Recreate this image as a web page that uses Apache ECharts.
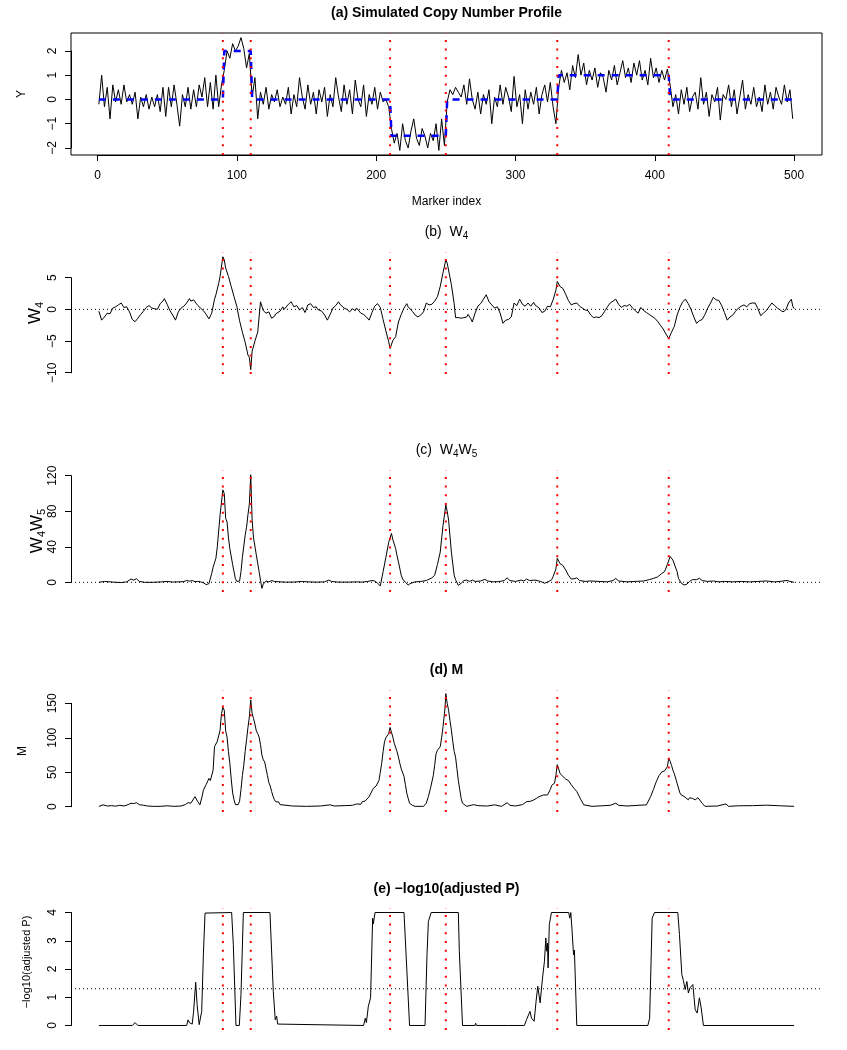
<!DOCTYPE html>
<html><head><meta charset="utf-8">
<script src="https://cdn.jsdelivr.net/npm/echarts@6/dist/echarts.min.js"></script>
<style>html,body{margin:0;padding:0;background:#fff}#c{width:847px;height:1050px}</style>
</head><body><div id="c"></div>
<script>
// ---------------- data ----------------
const breakpoints = [90, 110, 210, 250, 330, 410];
const xTickLabels = [0, 100, 200, 300, 400, 500];
const yTicksA = [-2, -1, 0, 1, 2];
const yTicksB = [-10, -5, 0, 5];
const yTicksC = [0, 40, 80, 120];
const yTicksD = [0, 50, 100, 150];
const yTicksE = [0, 1, 2, 3, 4];
const pThreshold = 1.3;

// true segment means (blue dashed)
const truthA = [[1,0],[90,0],[91,2],[110,2],[111,0],[210,0],[211,-1.5],[250,-1.5],[251,0],[330,0],[331,1],[410,1],[411,0],[500,0]];

// observed Y at markers 1,3,5,...,499
const yA = [
-0.2,1.0,-0.3,0.5,-0.8,0.6,-0.1,0.4,-0.2,0.6,
-0.1,0.2,-0.2,0.3,-0.8,0.1,-0.3,0.2,-0.4,0.1,
-0.3,0.2,-0.5,0.5,-0.7,0.5,-0.3,0.6,-0.2,-1.1,
0.2,-0.3,0.5,-0.4,0.4,-0.3,0.6,0.1,0.9,-0.3,
0.7,-0.4,1.0,-0.3,0.6,
1.2,2.0,1.7,2.3,2.0,2.2,2.55,2.1,1.3,1.9,
0.1,0.9,-0.8,0.3,-0.2,0.5,-0.4,0.2,-0.1,0.4,
-0.3,0.1,-0.2,0.5,-0.6,0.2,-0.3,0.9,0.1,-0.4,
0.6,-0.2,0.3,-0.6,0.4,-0.1,0.5,-0.7,0.2,-0.3,
0.9,0.1,-0.5,0.6,-0.2,0.4,-0.6,0.8,0.0,-0.3,
0.6,-0.7,0.2,-0.2,0.5,-0.4,0.3,-0.1,0.0,-0.3,
-1.2,-1.8,-1.4,-2.1,-1.0,-1.7,-2.0,-1.3,-0.8,-1.6,
-1.9,-1.2,-1.5,-2.0,-1.4,-1.7,-1.0,-2.1,-0.8,-1.9,
-0.1,0.4,0.2,0.5,0.3,0.1,0.6,-0.2,0.85,0.0,
-0.4,0.3,-0.6,0.2,-0.2,0.4,-1.0,0.1,-0.3,0.6,
-0.2,0.5,0.1,-0.5,0.95,-0.3,0.2,-1.0,0.4,-0.4,
0.3,-0.2,0.5,-0.6,0.2,0.6,-0.1,0.7,-0.3,-1.0,
0.5,1.2,0.7,1.1,0.4,1.4,0.9,1.85,1.0,1.5,
0.6,1.2,0.8,1.3,0.5,1.1,0.9,0.3,1.2,0.8,
1.4,0.6,1.1,1.6,0.9,1.3,0.7,1.5,1.0,1.6,
0.8,1.2,0.6,1.7,0.9,1.3,0.7,1.2,0.8,1.25,
0.6,-0.3,0.2,-0.6,0.4,-0.2,0.5,-0.5,0.1,0.3,
-0.4,0.9,-0.2,0.3,-0.7,0.2,-0.1,0.5,-0.85,0.2,
0.0,0.6,-0.3,0.4,-0.6,0.1,0.8,-0.4,0.2,-0.2,
0.5,-0.3,0.1,-0.5,0.6,-0.2,0.3,-0.4,0.5,0.1,
-0.2,0.6,-0.1,0.4,-0.8
];

// W4 statistic [marker, value]
const W4 = [[1,-0.3],[3,-1.7],[5,-1.2],[7,-0.6],[8,-0.9],[9,-0.7],[11,0.2],[12,-0.1],[13,0.4],[15,0.7],[16,0.4],[17,1.0],[19,0.3],[21,0.4],[23,-0.4],[25,-1.6],[26,-1.3],[27,-1.95],[29,-1.4],[31,-0.8],[33,-0.3],[35,0.3],[36,0.0],[37,0.6],[39,0.2],[41,0.1],[42,0.4],[43,0.0],[45,0.9],[47,1.3],[48,1.7],[50,0.8],[52,-0.2],[53,-0.5],[54,-0.9],[56,-1.7],[58,-0.4],[59,-0.7],[60,0.2],[62,0.5],[63,0.3],[64,1.0],[66,1.7],[67,1.3],[68,1.1],[69,1.5],[70,1.2],[72,0.6],[73,0.9],[74,0.2],[76,-0.2],[78,-0.8],[80,-1.5],[82,-0.6],[84,1.6],[85,2.3],[87,4.1],[88,5.2],[90,8.3],[91,7.8],[92,6.5],[94,5.2],[96,3.6],[98,2.0],[100,0.5],[102,-1.8],[104,-3.6],[106,-5.2],[108,-7.2],[109,-7.6],[110,-9.5],[111,-6.6],[113,-5.0],[115,-3.6],[117,1.2],[119,-0.2],[120,0.1],[121,-0.6],[123,-0.4],[124,-0.9],[125,-1.4],[127,-1.1],[128,-0.7],[129,-0.6],[131,-0.3],[133,0.4],[134,0.0],[135,0.2],[137,0.8],[139,1.2],[140,0.8],[141,0.4],[143,0.6],[145,-0.1],[146,0.2],[147,0.3],[149,-0.5],[151,0.7],[152,0.4],[153,0.9],[155,0.3],[157,0.4],[158,0.0],[159,0.1],[161,-0.3],[163,-0.9],[165,-1.7],[167,-0.8],[169,0.2],[171,0.6],[173,1.2],[174,0.8],[175,1.1],[177,0.2],[179,0.0],[180,0.3],[181,-0.4],[183,0.1],[185,-0.2],[186,0.2],[187,0.0],[189,-0.6],[191,-0.8],[192,-0.5],[193,-1.2],[195,-1.7],[197,-0.5],[199,0.5],[201,0.9],[203,0.3],[205,-1.6],[207,-3.4],[209,-5.1],[210,-6.2],[212,-4.9],[214,-4.3],[216,-2.0],[218,-0.8],[220,0.2],[222,0.9],[223,0.4],[224,0.5],[226,-0.3],[228,-0.9],[230,-1.2],[232,-0.9],[233,-1.0],[234,-0.4],[236,1.0],[238,0.7],[240,0.8],[242,1.3],[244,2.0],[246,3.6],[248,5.8],[250,7.8],[251,7.3],[252,7.0],[254,3.9],[256,0.9],[257,-1.3],[258,-1.0],[259,-1.3],[260,-1.1],[261,-1.4],[262,-1.2],[263,-1.3],[264,-1.0],[265,-1.2],[266,-0.8],[267,-0.9],[268,-1.5],[269,-2.0],[271,-0.6],[273,0.5],[275,0.9],[277,1.6],[279,2.3],[281,1.2],[282,1.4],[283,0.7],[285,0.2],[286,0.5],[287,0.4],[289,-0.6],[291,-2.2],[293,-1.7],[294,-1.9],[295,-1.6],[297,-1.2],[299,1.0],[301,0.6],[303,1.6],[305,0.8],[306,1.1],[307,0.5],[309,1.0],[311,0.5],[313,1.1],[314,0.7],[315,0.6],[317,0.2],[319,-0.5],[321,-0.3],[323,0.5],[325,0.4],[327,1.5],[329,3.0],[330,4.4],[332,3.6],[334,3.3],[336,2.4],[338,1.4],[340,0.7],[342,0.9],[344,1.0],[346,0.5],[347,0.8],[348,0.2],[350,-0.1],[352,-0.2],[354,-0.9],[356,-1.3],[358,-1.2],[359,-1.0],[360,-1.3],[362,-1.0],[364,-0.3],[366,0.4],[368,1.0],[370,1.3],[372,1.6],[374,0.8],[376,0.3],[378,0.6],[380,0.5],[382,0.8],[384,0.2],[386,-0.2],[388,-0.6],[390,0.3],[392,-0.2],[394,-0.5],[396,-0.8],[398,-1.1],[400,-1.4],[402,-1.9],[404,-2.5],[406,-3.1],[408,-3.9],[410,-4.6],[412,-3.6],[414,-2.7],[416,-0.9],[418,0.3],[420,1.2],[422,1.6],[424,0.9],[426,0.0],[428,-1.2],[430,-2.2],[432,-1.8],[434,-1.6],[436,-0.8],[438,0.2],[440,1.0],[442,1.9],[444,1.5],[446,1.4],[448,0.6],[450,-0.5],[452,-1.7],[454,-1.2],[455,-1.4],[456,-0.9],[458,-0.3],[460,0.2],[462,0.5],[463,0.2],[464,0.7],[466,0.4],[468,0.9],[470,1.0],[472,1.0],[474,0.1],[476,-1.0],[478,-0.6],[480,-0.2],[482,0.4],[484,1.0],[486,0.6],[488,0.2],[490,-0.1],[492,-0.4],[494,-0.1],[496,1.0],[498,1.6],[499,0.5],[500,0.1]];

// W4*W5 statistic [marker, value]
const W4W5 = [[1,0],[5,1],[9,0.5],[13,0],[17,-0.3],[21,0.5],[24,3.7],[26,2.5],[28,4],[30,1],[34,0],[40,0],[46,0.5],[50,1],[54,0.3],[58,0.5],[62,0.8],[64,2.2],[66,1.2],[68,2.0],[70,0.8],[72,1.0],[74,0.5],[76,-0.5],[78,-2.6],[80,-1.5],[82,10],[83,17],[85,27],[86,40],[88,76],[90,104],[91,100],[92,72],[93,68],[94,50],[95,38],[97,20],[99,4],[100,1],[102,1.5],[103,12],[104,28],[106,53],[107,62],[108,76],[109,88],[110,121],[111,70],[112,50],[114,31],[116,12],[117,2.5],[118,-6.8],[119,-2],[121,1.5],[123,0.5],[125,2],[127,1],[131,0.5],[135,0.2],[141,0.3],[147,1],[151,0.5],[157,0.2],[163,0.5],[166,2.5],[168,1],[172,0.3],[180,0.2],[186,0.5],[190,0.2],[194,1],[197,2],[199,1.5],[201,-1],[203,-4],[205,12],[207,28],[209,45],[211,55],[212,48],[214,38],[215,30],[216,23],[218,8],[219,3.7],[221,0],[223,-3],[225,-1],[228,0.5],[232,1],[236,2],[238,3.5],[240,5],[242,8],[244,20],[246,34],[248,64],[250,87],[251,80],[252,70],[254,34],[256,8],[257,3],[259,-3.4],[261,-1],[263,2],[265,2.5],[267,1],[269,2.5],[271,1],[275,1.5],[278,3.3],[280,1.5],[284,0.5],[288,0.8],[292,2],[294,5],[296,2],[300,1],[304,2.5],[306,1.5],[308,3.7],[310,2],[314,2.5],[318,1],[321,-1],[322,-2.6],[324,1],[326,3],[327,6.3],[329,15],[330,27],[332,21],[334,19],[336,14],[338,8],[340,3.7],[342,4],[344,5],[346,2],[350,1],[354,1.5],[360,1],[366,0.5],[370,2],[372,4.4],[374,1.5],[380,0.5],[386,1],[392,1.5],[396,3],[399,4.4],[402,6],[405,10],[407,12],[409,20],[411,29],[413,25],[414,23],[416,12],[417,4.4],[419,-1],[421,-3],[423,-2],[425,1],[427,3],[428,5],[430,3],[432,4.5],[434,2],[438,1],[442,1.5],[446,0.5],[450,1],[456,0.5],[462,1],[468,0.5],[474,1],[480,1.5],[486,0.5],[490,1],[495,2.1],[497,1],[500,0]];

// M statistic [marker, value]
const M = [[1,0.3],[4,2.7],[7,1],[10,1.5],[13,0.8],[16,2],[19,1],[22,3],[24,5],[26,4.5],[28,5.8],[30,3],[33,2],[36,1],[40,0.5],[45,0.5],[50,1.3],[55,0.5],[60,1],[63,3],[65,5.8],[67,5],[68,6],[70,14.6],[72,7.3],[73.5,2.7],[75,14],[76,24],[78,32],[80,41],[81,38],[83,53],[84,87],[86,95],[87,97],[88,111],[89,135],[90,144],[91,140],[92,110],[93,101],[94,80],[95,63],[96,40],[97,20],[98,10],[99,3],[100,1.3],[101,3],[102,8],[103,25],[104,45],[105,60],[106,80],[107,97],[108,115],[109,130],[110,155],[111,135],[112,128],[113,120],[114,110],[115,106],[116,101],[117,90],[118,75],[119,68],[120,65],[121,55],[122,45],[123,35],[124,30],[125,22],[126,15],[127,10],[128,7],[129,8],[130,7],[131,3],[132,0.5],[140,1],[150,0.5],[160,1],[167,2.7],[170,1],[177,1.5],[183,2],[186,4],[187,5],[189,3.5],[190,7.3],[192,8],[193,9.7],[195,14.6],[196,13],[198,26.7],[200,30],[202,38],[203,50],[204,63],[205,80],[206,94],[207,100],[209,106],[210,115],[211,108],[212,101],[213,92],[215,80],[216,72],[217,63],[218,55],[220,44],[221,32],[222,19.6],[223,12],[224,5],[226,2],[228,0.5],[234,0.5],[236,5],[237.5,14.6],[239,26.7],[241,45],[242,60],[243,77],[244,82],[246,87],[247,100],[248,116],[249,135],[249.5,145],[250,164],[251,150],[252,140],[253,125],[254,111],[255,95],[256,80],[257,72],[258,55],[259,38],[260,25],[261,12],[262,5],[263,2.7],[265,0.5],[270,3],[271,5],[273,1.5],[280,1],[285,2.7],[290,0.5],[294,5.8],[296,2],[300,1],[305,3],[308,7.3],[311,8],[313,9.7],[315,12],[317,14.6],[318,12],[320,17],[321,19.6],[323,17],[325,25],[326,31],[328,34],[329,45],[330,61],[331,55],[332,48],[333,46],[334,44],[336,40],[338,38],[340,32],[342,26.7],[344,22],[345,19.6],[347,10],[349,2.7],[355,0.5],[362,1.3],[368,2],[372,5],[374,2],[380,1],[388,2],[394,2.7],[395,5],[397,14.6],[399,25],[401,36],[403,45],[405,50.4],[407,52],[408,53],[409,58],[410,70],[411,66],[412,60],[413,53],[414,48],[416,34],[418,20],[419,17],[421,15],[422,14.6],[424,10],[425,13],[427,12],[429,10],[431,13],[432,12],[434,5],[436,0.5],[445,1],[451,4],[453,0.5],[460,1.3],[470,1.5],[480,2.2],[490,1.3],[500,0.5]];

// -log10(adjusted P) [marker, value]
const negLogP = [[1,0],[25,0],[27,0.1],[29,0],[64,0],[65,0.2],[66,0.1],[68,0.05],[69,0.5],[70.5,1.53],[71.5,0.74],[73,0.03],[74.8,0.5],[76,2.5],[77.2,3.98],[78.4,4],[96.3,4],[97.5,2.86],[99.4,0],[101.8,0],[103,1.1],[104.7,4],[123.8,4],[126.2,1.2],[127.6,0.2],[128.6,0.33],[129.3,0.05],[130.5,0],[191,0],[192.2,0.26],[193,0.1],[194.4,0.68],[196,0.98],[197.5,3.8],[198,3.6],[199.2,4],[220,4],[222,2.0],[224,0],[235.1,0],[236.5,2.5],[237.5,3.68],[239.5,4],[259,4],[259.7,2.63],[262,0],[271,0],[271.4,0.08],[272,0],[294,0],[294.2,0.06],[295,0],[306.4,0],[308,0.21],[309,0.26],[310.4,0.5],[311.5,0.26],[313.4,0.15],[314.8,0.86],[316,1.39],[317.7,0.8],[319.4,1.68],[320.8,2.27],[321.8,3.1],[322.3,2.63],[323,2.92],[323.4,2.04],[324.3,3.57],[325.8,4],[338.2,4],[339,3.8],[339.7,4],[340.5,3.45],[341.7,2.5],[342.3,2.67],[344,0],[395,0],[396.3,0.26],[398.1,3.8],[399.8,4],[416.5,4],[417.7,3.22],[419.4,1.8],[420.5,1.6],[421.8,1.27],[423,1.56],[424.1,1.15],[425.2,1.33],[427.3,1.45],[429,0.56],[430.4,0.44],[432,0.98],[433.3,0.62],[434.9,0],[500,0]];

// ---------------- layout ----------------
const FONT = '"Liberation Sans", Arial, Helvetica, sans-serif';
const XMIN = -19, XMAX = 520;
const LEFT = 71, W = 751, H = 122;
const tops = [33, 252, 470, 690, 908];
const ylims = [[-2.29, 2.74], [-10.2, 9.05], [-10.9, 126.4], [-7.7, 169.3], [-0.16, 4.16]];
const yTicks = [yTicksA, yTicksB, yTicksC, yTicksD, yTicksE];
function py(p, v) { const a = ylims[p][0], b = ylims[p][1]; return tops[p] + (b - v) / (b - a) * H; }
function px(v) { return LEFT + (v - XMIN) / (XMAX - XMIN) * W; }
const minus = v => String(v).replace('-', '\u2212');

const yAData = yA.map((v, i) => [1 + 2 * i, v]);
const panelData = [yAData, W4, W4W5, M, negLogP];
const hLines = [null, 0, 0, null, pThreshold];

const grids = [], xAxes = [], yAxes = [], series = [];
function addGrid(g) { grids.push(Object.assign({ outerBoundsMode: 'none', containLabel: false }, g)); return grids.length - 1; }
const axisBase = {
  axisLine: { show: true, onZero: false, lineStyle: { color: '#000', width: 1 } },
  axisTick: { show: true, inside: false, length: 6, lineStyle: { color: '#000', width: 1 } },
  splitLine: { show: false }
};

for (let p = 0; p < 5; p++) {
  const gi = addGrid({ left: LEFT, top: tops[p], width: W, height: H, show: p === 0, borderColor: '#000', borderWidth: 1, backgroundColor: 'transparent' });
  const xi = xAxes.length;
  xAxes.push({ gridIndex: gi, type: 'value', min: XMIN, max: XMAX, show: false });
  const yi = yAxes.length;
  yAxes.push({ gridIndex: gi, type: 'value', min: ylims[p][0], max: ylims[p][1], show: false });
  const yt = yTicks[p];
  const tTop = py(p, yt[yt.length - 1]), tBot = py(p, yt[0]);
  const hg = addGrid({ left: LEFT, width: W, top: tTop, height: tBot - tTop });
  xAxes.push({ gridIndex: hg, type: 'value', min: 0, max: 1, show: false });
  yAxes.push(Object.assign({}, axisBase, {
    gridIndex: hg, type: 'value', position: 'left', min: yt[0], max: yt[yt.length - 1], interval: yt[1] - yt[0],
    axisLabel: { show: true, rotate: 90, margin: 12, fontSize: 12, color: '#000', fontFamily: FONT, formatter: minus }
  }));

  series.push({ type: 'line', xAxisIndex: xi, yAxisIndex: yi, data: panelData[p], showSymbol: false, symbol: 'none',
    lineStyle: { color: '#000', width: 1 }, silent: true, z: 3 });
  if (p === 0) {
    series.push({ type: 'line', xAxisIndex: xi, yAxisIndex: yi, data: truthA, showSymbol: false, symbol: 'none',
      lineStyle: { color: '#0000FF', width: 2.5, type: [7, 7] }, silent: true, z: 4 });
  }
  if (hLines[p] !== null) {
    series.push({ type: 'line', xAxisIndex: xi, yAxisIndex: yi, data: [[XMIN, hLines[p]], [XMAX, hLines[p]]], showSymbol: false, symbol: 'none',
      lineStyle: { color: '#000', width: 1, type: [1, 3] }, silent: true, z: 4 });
  }
  breakpoints.forEach(bp => {
    series.push({ type: 'line', xAxisIndex: xi, yAxisIndex: yi, data: [[bp, ylims[p][0]], [bp, ylims[p][1]]], showSymbol: false, symbol: 'none',
      lineStyle: { color: '#FF0000', width: 2, type: [2, 6.7] }, silent: true, z: 5 });
  });
}
const xg = addGrid({ left: px(xTickLabels[0]), width: px(xTickLabels[xTickLabels.length - 1]) - px(xTickLabels[0]), top: tops[0], height: H });
xAxes.push(Object.assign({}, axisBase, {
  gridIndex: xg, type: 'value', position: 'bottom', min: xTickLabels[0], max: xTickLabels[xTickLabels.length - 1], interval: xTickLabels[1] - xTickLabels[0],
  axisLabel: { show: true, margin: 15, fontSize: 12, color: '#000', fontFamily: FONT }
}));
yAxes.push({ gridIndex: xg, type: 'value', min: 0, max: 1, show: false });

// ---------------- texts ----------------
const cx = LEFT + W / 2;
function txt(x, y, text, opt) {
  return Object.assign({ type: 'text', x: x, y: y, silent: true, z: 10,
    style: Object.assign({ text: text, fill: '#000', font: '14px ' + FONT, align: 'center', verticalAlign: 'middle', textAlign: 'center', textVerticalAlign: 'middle' }, opt.style || {}) },
    opt.rotation ? { rotation: opt.rotation } : {});
}
const subTitleRich = {
  m: { fontSize: 14, fontFamily: FONT, lineHeight: 18, verticalAlign: 'middle' },
  s: { fontSize: 10, fontFamily: FONT, lineHeight: 11, verticalAlign: 'bottom' }
};
const subLabRich = {
  m: { fontSize: 17, fontFamily: FONT, lineHeight: 21, verticalAlign: 'middle' },
  s: { fontSize: 11, fontFamily: FONT, lineHeight: 12, verticalAlign: 'bottom' }
};
const graphics = [
  txt(cx, 13, '(a) Simulated Copy Number Profile', { style: { font: 'bold 14px ' + FONT } }),
  txt(cx, 232, '{m|(b)  W}{s|4}', { style: { rich: subTitleRich } }),
  txt(cx, 450, '{m|(c)  W}{s|4}{m|W}{s|5}', { style: { rich: subTitleRich } }),
  txt(cx, 670, '(d) M', { style: { font: 'bold 14px ' + FONT } }),
  txt(cx, 889, '(e) \u2212log10(adjusted P)', { style: { font: 'bold 14px ' + FONT } }),
  txt(cx, 202, 'Marker index', { style: { font: '12px ' + FONT } }),
  txt(22, tops[0] + H / 2, 'Y', { rotation: Math.PI / 2, style: { font: '12px ' + FONT } }),
  txt(35, tops[1] + H / 2, '{m|W}{s|4}', { rotation: Math.PI / 2, style: { rich: subLabRich } }),
  txt(37, tops[2] + H / 2, '{m|W}{s|4}{m|W}{s|5}', { rotation: Math.PI / 2, style: { rich: subLabRich } }),
  txt(23, tops[3] + H / 2, 'M', { rotation: Math.PI / 2, style: { font: '12px ' + FONT } }),
  txt(27, 962, '\u2212log10(adjusted P)', { rotation: Math.PI / 2, style: { font: '11px ' + FONT } })
];

const chart = echarts.init(document.getElementById('c'), null, { renderer: 'canvas' });
chart.setOption({
  animation: false,
  backgroundColor: '#fff',
  grid: grids, xAxis: xAxes, yAxis: yAxes, series: series,
  graphic: graphics
});
</script></body></html>
